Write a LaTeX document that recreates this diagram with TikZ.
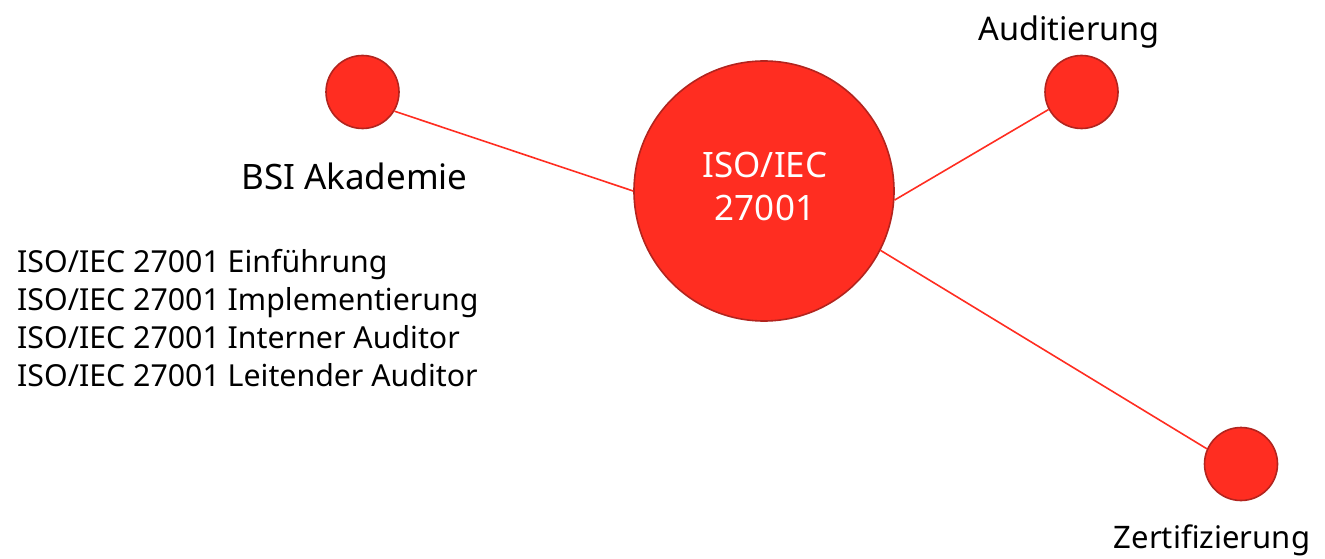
\documentclass[tikz,border=0pt]{standalone}
\usepackage{fontspec}
\setmainfont{Noto Sans}
\begin{document}
\begin{tikzpicture}[x=1pt,y=-1pt,
 bub/.style={circle,draw=bubline,fill=bubfill,line width=1.6pt,inner sep=0pt},
 conn/.style={draw=bubfill,line width=1.6pt},
 lab/.style={inner sep=0pt,text=black},
 lst/.style={inner sep=0pt,align=left,font=\fontsize{30.3}{38}\selectfont,text=black}]
\definecolor{bubfill}{RGB}{255,45,33}
\definecolor{bubline}{RGB}{178,36,30}
\useasboundingbox (0,0) rectangle (1325,559);
\node[bub,minimum size=73] (a) at (362.5,92) {};
\node[bub,minimum size=73] (b) at (1081.5,92) {};
\node[bub,minimum size=73] (c) at (1241,464) {};
\node[bub,minimum size=260] (m) at (764,191) {};
\node[inner sep=0pt,align=center,text=white,font=\fontsize{35}{43}\selectfont] (t) at (765,186) {ISO/IEC\\27001};
\draw[conn] (a.-31.6) -- (m.180);
\draw[conn] (b.208.5) -- (m.-4);
\draw[conn] (c.156) -- (m.-27.6);
\node[lab,font=\fontsize{35}{42}\selectfont] (l1) at (354.5,176) {BSI Akademie};
\node[lab,font=\fontsize{32.5}{40}\selectfont] (l2) at (1069,32) {Auditierung};
\node[lab,font=\fontsize{31}{38}\selectfont] (l3) at (1212,540) {Zertifizierung};
\node[lst,anchor=west] (l4) at (17,318) {ISO/IEC 27001 Einführung\\ISO/IEC 27001 Implementierung\\ISO/IEC 27001 Interner Auditor\\ISO/IEC 27001 Leitender Auditor};
\end{tikzpicture}
\end{document}
